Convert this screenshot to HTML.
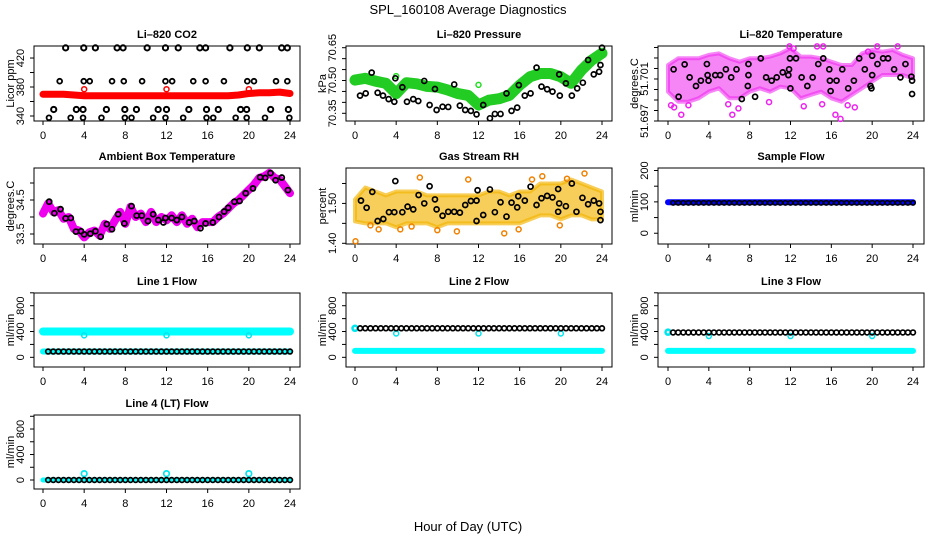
<!DOCTYPE html>
<html><head><meta charset="utf-8"><style>
html,body{margin:0;padding:0;background:#fff;}
svg{display:block;font-family:"Liberation Sans",sans-serif;}
</style></head><body>
<svg id="chart" width="936" height="540" viewBox="0 0 936 540" xmlns="http://www.w3.org/2000/svg">
<text x="468" y="14" text-anchor="middle" font-size="13">SPL_160108  Average Diagnostics</text>
<text x="468" y="531" text-anchor="middle" font-size="13">Hour of Day (UTC)</text>
</svg>
<script>
// ---- data ----
const flowHours = [0.5,1,1.5,2,2.5,3,3.5,4,4.5,5,5.5,6,6.5,7,7.5,8,8.5,9,9.5,10,10.5,11,11.5,12,12.5,13,13.5,14,14.5,15,15.5,16,16.5,17,17.5,18,18.5,19,19.5,20,20.5,21,21.5,22,22.5,23,23.5,24];
const bandHours = [0,1,2,3,4,5,6,7,8,9,10,11,12,13,14,15,16,17,18,19,20,21,22,23,24];
const halfHours = [0,0.5,1,1.5,2,2.5,3,3.5,4,4.5,5,5.5,6,6.5,7,7.5,8,8.5,9,9.5,10,10.5,11,11.5,12,12.5,13,13.5,14,14.5,15,15.5,16,16.5,17,17.5,18,18.5,19,19.5,20,20.5,21,21.5,22,22.5,23,23.5,24];
const calHours = [4,12,20];

// CO2
const co2Red = [370,370,370,369,368,368,368,368,368,368,368,368,368,368,368,368,368,368,368,369,371,372,372,373,371];
const co2RedCal = [377,377,377];
const co2TopH = [2.2,3.96,5.09,7.2,7.78,10.12,11.9,13.14,15.24,15.8,18.16,19.85,21.02,23.19,23.74];
const co2TopV = [434,434,434,434,434,434,434,434,434,434,434,434,434,434,434];
const co2MidH = [1.62,3.96,4.54,6.71,7.85,9.63,11.9,12.55,14.6,15.8,17.58,19.85,20.5,22.64,23.74];
const co2MidV = [388,388,388,388,388,388,388,388,388,388,388,388,388,388,388];
const co2LowH = [1.04,3.24,3.89,6.16,7.95,9.08,11.19,12.0,14.17,15.89,17.03,19.2,19.79,22.12,23.84];
const co2LowV = [349,349,349,349,349,349,349,349,349,349,349,349,349,349,349];
const co2BotH = [0.58,2.69,3.89,5.68,7.95,8.6,10.7,11.9,13.62,15.89,16.54,18.72,19.79,21.57,23.94];
const co2BotV = [337.6,337.6,337.6,337.6,337.6,337.6,337.6,337.6,337.6,337.6,337.6,337.6,337.6,337.6,337.6];

// Pressure
const presBand = [70.502,70.51,70.497,70.487,70.44,70.49,70.485,70.473,70.47,70.457,70.44,70.432,70.388,70.41,70.417,70.432,70.479,70.517,70.532,70.532,70.517,70.487,70.547,70.593,70.625];
const presCalV = [70.52,70.48,70.52];
const presBlkH = [0.49,1.04,1.62,2.2,2.72,3.27,3.82,3.92,4.6,5.05,5.66,6.15,6.73,7.25,7.77,7.93,8.51,9.06,9.64,10.19,10.71,11.26,11.81,12.46,13.11,13.59,14.14,14.72,15.21,15.76,15.92,16.5,17.06,17.64,18.12,18.67,19.19,19.84,19.9,20.49,21.07,21.59,22.14,22.65,23.2,23.72,23.85,24.0];
const presBlkV = [70.431,70.441,70.536,70.444,70.431,70.415,70.403,70.51,70.469,70.403,70.415,70.406,70.498,70.388,70.461,70.365,70.38,70.379,70.482,70.385,70.365,70.361,70.345,70.388,70.327,70.347,70.347,70.441,70.361,70.376,70.479,70.431,70.441,70.559,70.472,70.46,70.449,70.528,70.431,70.487,70.431,70.464,70.49,70.594,70.528,70.54,70.571,70.65];

// Li-820 temperature
const tempUpper = [51.70233,51.70297,51.70297,51.70297,51.70329,51.70344,51.70297,51.70265,51.70297,51.70297,51.70313,51.70344,51.70392,51.70313,51.70313,51.70297,51.70265,51.70233,51.70233,51.70344,51.70376,51.7036,51.70376,51.70329,51.70297];
const tempLower = [51.69979,51.69884,51.69884,51.69916,51.69979,51.70011,51.69916,51.69916,51.69979,51.70011,51.69979,51.70027,51.70011,51.69916,51.69948,51.69979,51.69916,51.69884,51.69948,51.70011,51.70075,51.70138,51.70138,51.70138,51.70106];
const tempOutH = [0.3,0.6,1.3,2.0,5.9,6.3,6.9,9.9,13.3,15.1,16.4,16.9,17.6,18.3,11.9,12.3,14.6,15.2,19.6,20.5,22.5];
const tempOutV = [51.6985,51.6983,51.6976,51.6985,51.6986,51.6976,51.6982,51.6988,51.6984,51.6986,51.6976,51.6972,51.6985,51.6983,51.7041,51.7039,51.7041,51.7041,51.7036,51.7041,51.7041];
const tempBlkH = [0.55,1.04,1.63,2.12,2.74,3.22,3.81,3.88,3.97,4.63,5.11,5.67,6.19,6.71,7.23,7.82,7.88,7.88,8.53,9.09,9.61,10.16,10.65,11.24,11.79,11.86,11.95,11.99,12.54,13.09,13.65,14.17,14.72,15.21,15.8,15.86,15.93,16.51,17.07,17.65,18.21,18.73,19.28,19.84,19.93,20.0,20.0,20.52,21.07,21.56,22.15,22.77,23.26,23.84,23.91,23.91];
const tempBlkV = [51.70192,51.69931,51.70239,51.70115,51.70033,51.70084,51.70242,51.70137,51.70084,51.70137,51.70137,51.70192,51.70115,51.70192,51.69909,51.70033,51.70137,51.70242,51.69931,51.70296,51.70115,51.70084,51.70115,51.70163,51.70137,51.70192,51.70296,51.70011,51.70296,51.70115,51.70033,51.70115,51.70242,51.70296,51.70192,51.70084,51.69985,51.70084,51.70192,51.70011,51.70084,51.70296,51.70192,51.70033,51.70011,51.70137,51.70321,51.70242,51.70296,51.70296,51.70192,51.70115,51.70242,51.70122,51.70084,51.69957];

// Ambient box temperature
const ambBand = [34.1,34.4,34.15,34.2,33.95,34.0,33.65,33.6,33.4,33.55,33.6,33.45,33.8,33.65,33.9,34.15,33.8,34.3,34.0,34.1,33.85,34.15,33.85,34.0,33.9,34.05,33.85,34.05,33.8,33.95,33.7,33.85,33.85,33.85,34.0,34.1,34.25,34.4,34.5,34.65,34.8,34.95,35.15,35.2,35.3,35.15,35.1,34.9,34.7];
const ambBlkH = [0.6,1.1,1.7,2.2,2.7,3.2,3.7,4.0,4.6,5.1,5.6,6.2,6.7,7.3,7.9,8.6,9.1,9.6,10.2,10.7,11.2,11.7,11.9,12.5,13.0,13.5,14.2,14.7,15.3,15.8,16.5,17.1,17.6,18.0,18.6,19.1,19.7,20.4,21.1,21.6,22.1,22.6,23.2,23.8];
const ambBlkV = [34.45,34.11,34.23,33.96,33.97,33.57,33.58,33.49,33.51,33.58,33.42,33.79,33.64,34.08,33.81,34.32,34.04,34.04,33.88,34.08,33.91,33.84,33.97,33.97,33.91,34.0,33.84,33.88,33.67,33.81,33.84,34.0,34.16,34.27,34.45,34.47,34.7,34.84,35.17,35.15,35.29,35.08,35.16,34.79];

// Gas stream RH
const rhUpper = [1.51,1.54,1.53,1.52,1.53,1.53,1.53,1.52,1.52,1.52,1.52,1.52,1.52,1.53,1.53,1.52,1.53,1.53,1.55,1.55,1.55,1.56,1.55,1.54,1.53];
const rhLower = [1.455,1.45,1.45,1.45,1.44,1.45,1.45,1.45,1.44,1.45,1.45,1.45,1.45,1.45,1.45,1.45,1.45,1.46,1.47,1.47,1.46,1.47,1.47,1.46,1.46];
const rhOutH = [0.05,1.5,2.3,4.4,5.5,6.3,8.0,9.9,11.0,14.5,15.9,17.2,18.2,19.9,20.6,22.3];
const rhOutV = [1.405,1.445,1.435,1.435,1.442,1.565,1.433,1.43,1.56,1.425,1.435,1.56,1.568,1.445,1.562,1.575];
const rhBlkH = [0.58,1.13,1.68,2.2,2.75,3.3,3.82,3.92,4.6,5.11,5.66,6.18,6.73,7.25,7.77,7.93,8.51,9.06,9.64,10.19,10.71,11.26,11.81,11.81,11.91,12.46,13.11,13.59,14.14,14.72,15.21,15.76,15.86,16.5,17.06,17.64,18.12,18.67,19.19,19.74,19.74,19.84,20.49,21.07,21.52,22.1,22.65,23.2,23.72,23.85,23.85];
const rhBlkV = [1.507,1.489,1.529,1.456,1.461,1.478,1.478,1.556,1.478,1.492,1.485,1.521,1.5,1.543,1.51,1.485,1.469,1.479,1.479,1.477,1.496,1.506,1.507,1.456,1.533,1.471,1.535,1.478,1.503,1.467,1.502,1.49,1.518,1.507,1.542,1.496,1.513,1.519,1.515,1.479,1.536,1.5,1.493,1.55,1.479,1.514,1.498,1.507,1.5,1.479,1.458];

// Flows
const sampleBlue = [99,99,99,99,99,99,99,99,99,99,99,99,99,99,99,99,99,99,99,99,99,99,99,99,99];
const sampleBlk = [97,97,97,97,97,97,97,97,97,97,97,97,97,97,97,97,97,97,97,97,97,97,97,97,97,97,97,97,97,97,97,97,97,97,97,97,97,97,97,97,97,97,97,97,97,97,97,97];
const line1Cyan = [400,400,400,400,400,400,400,400,400,400,400,400,400,400,400,400,400,400,400,400,400,400,400,400,400];
const line1CyanLow = [90,90,90,90,90,90,90,90,90,90,90,90,90,90,90,90,90,90,90,90,90,90,90,90,90];
const line1Cal = [340,340,340];
const line1Blk = [90,90,90,90,90,90,90,90,90,90,90,90,90,90,90,90,90,90,90,90,90,90,90,90,90,90,90,90,90,90,90,90,90,90,90,90,90,90,90,90,90,90,90,90,90,90,90,90];
const line2Cyan = [100,100,100,100,100,100,100,100,100,100,100,100,100,100,100,100,100,100,100,100,100,100,100,100,100];
const line2Cal = [370,370,370];
const line2Blk = [450,450,450,450,450,450,450,450,450,450,450,450,450,450,450,450,450,450,450,450,450,450,450,450,450,450,450,450,450,450,450,450,450,450,450,450,450,450,450,450,450,450,450,450,450,450,450,450];
const line3Cyan = [100,100,100,100,100,100,100,100,100,100,100,100,100,100,100,100,100,100,100,100,100,100,100,100,100];
const line3Cal = [330,330,330];
const line3Blk = [385,385,385,385,385,385,385,385,385,385,385,385,385,385,385,385,385,385,385,385,385,385,385,385,385,385,385,385,385,385,385,385,385,385,385,385,385,385,385,385,385,385,385,385,385,385,385,385];
const line4Cyan = [0,0,0,0,0,0,0,0,0,0,0,0,0,0,0,0,0,0,0,0,0,0,0,0,0];
const line4Cal = [100,100,100];
const line4Blk = [0,0,0,0,0,0,0,0,0,0,0,0,0,0,0,0,0,0,0,0,0,0,0,0,0,0,0,0,0,0,0,0,0,0,0,0,0,0,0,0,0,0,0,0,0,0,0,0];
const xTicks = [0,4,8,12,16,20,24];

// ---- drawing ----
const NS = 'http://www.w3.org/2000/svg';
const svg = document.getElementById('chart');
const cols = [{l:34,r:300,a:43,b:290,yl:11},{l:346,r:612,a:355,b:602,yl:323},{l:658,r:924,a:668,b:913,yl:635}];
const rows = [{t:46,b:121},{t:168,b:244},{t:293,b:367},{t:415,b:489}];
let clipN = 0;
function mk(tag, attrs, parent){
  const e = document.createElementNS(NS, tag);
  for (const k in attrs) e.setAttribute(k, attrs[k]);
  (parent||svg).appendChild(e);
  return e;
}
function panel(name, title, ylab, ci, ri, ymin, ymax, yticks, ylabels){
  const c = cols[ci], r = rows[ri];
  const g = mk('g', {});
  
  
  const xs = h => c.a + (c.b - c.a) * h / 24;
  const ys = v => r.b - (v - ymin) / (ymax - ymin) * (r.b - r.t);
  const box = mk('rect', {x:c.l, y:r.t, width:c.r-c.l, height:r.b-r.t, fill:'none', stroke:'#000', 'stroke-width':1}, g);
  
  
  const t = mk('text', {x:(c.l+c.r)/2, y:r.t-8, 'text-anchor':'middle', 'font-size':11, 'font-weight':'bold'}, g);
  t.textContent = title;
  
  
  const yl = mk('text', {x:c.yl, y:(r.t+r.b)/2, 'text-anchor':'middle', 'font-size':11, transform:`rotate(-90 ${c.yl} ${(r.t+r.b)/2})`, 'dominant-baseline':'middle'}, g);
  yl.textContent = ylab;
  
  
  const xa = mk('g', {}, g);
  
  
  xTicks.forEach(h => {
    mk('line', {x1:xs(h), x2:xs(h), y1:r.b, y2:r.b+4, stroke:'#000'}, xa);
    const tl = mk('text', {x:xs(h), y:r.b+18, 'text-anchor':'middle', 'font-size':11}, xa);
    tl.textContent = h;
  });
  const ya = mk('g', {}, g);
  
  
  yticks.forEach(v => mk('line', {x1:c.l-4, x2:c.l, y1:ys(v), y2:ys(v), stroke:'#000'}, ya));
  ylabels.forEach(v => {
    const lx = c.l - 10, ly = ys(v);
    const tl = mk('text', {x:lx, y:ly, 'text-anchor':'middle', 'font-size':11, transform:`rotate(-90 ${lx} ${ly})`}, ya);
    tl.textContent = v;
  });
  const id = 'clip' + (clipN++);
  const cp = mk('clipPath', {id:id}, g);
  mk('rect', {x:c.l-3, y:r.t-3, width:c.r-c.l+6, height:r.b-r.t+6}, cp);
  const marks = mk('g', {'clip-path':`url(#${id})`}, g);
  
  
  return {xs, ys, g:marks};
}
function band(p, hours, vals, color, w, nm){
  const pts = hours.map((h,i) => p.xs(h).toFixed(1)+','+p.ys(vals[i]).toFixed(1)).join(' ');
  const e = mk('polyline', {points:pts, fill:'none', stroke:color, 'stroke-width':w, 'stroke-linejoin':'round', 'stroke-linecap':'round'}, p.g);
  
  
}
function area(p, hours, up, lo, color, op, nm){
  const a = hours.map((h,i) => p.xs(h).toFixed(1)+','+p.ys(up[i]).toFixed(1));
  const b = hours.slice().reverse().map((h,i) => p.xs(h).toFixed(1)+','+p.ys(lo[hours.length-1-i]).toFixed(1));
  const e = mk('polygon', {points:a.concat(b).join(' '), fill:color, 'fill-opacity':op, stroke:color, 'stroke-opacity':op, 'stroke-width':4, 'stroke-linejoin':'round'}, p.g);
  
  
}
function pts(p, hours, vals, color, rad, sw, nm){
  hours.forEach((h,i) => {
    const e = mk('circle', {cx:p.xs(h), cy:p.ys(vals[i]), r:rad, fill:'none', stroke:color, 'stroke-width':sw}, p.g);
    
    
  });
}

// CO2
let p = panel('co2', 'Li\u2013820 CO2', 'Licor ppm', 0, 0, 333.1, 436.6, [340,360,380,400,420], [340,380,420]);
band(p, bandHours, co2Red, '#f00', 7, 'co2-red-band');
pts(p, calHours, co2RedCal, '#f00', 2.5, 1.5, 'co2-cal-point');
pts(p, co2TopH, co2TopV, '#000', 2.6, 2, 'co2-point');
pts(p, co2MidH, co2MidV, '#000', 2.4, 1.8, 'co2-point');
pts(p, co2LowH, co2LowV, '#000', 2.6, 2, 'co2-point');
pts(p, co2BotH, co2BotV, '#000', 2.4, 1.8, 'co2-point');

// Pressure
p = panel('pressure', 'Li\u2013820 Pressure', 'kPa', 1, 0, 70.3148, 70.6578, [70.35,70.40,70.45,70.50,70.55,70.60,70.65], ['70.35','70.50','70.65']);
band(p, bandHours, presBand, '#22cc22', 11, 'pressure-green-band');
pts(p, calHours, presCalV, '#22dd22', 2.5, 1.5, 'pressure-cal-point');
pts(p, presBlkH, presBlkV, '#000', 2.5, 1.7, 'pressure-point');

// Li-820 temperature
p = panel('li820-temp', 'Li\u2013820 Temperature', 'degrees.C', 2, 0, 51.697, 51.70414, [51.697,51.698,51.699,51.700,51.701,51.702,51.703,51.704], ['51.697','51.701']);
area(p, bandHours, tempUpper, tempLower, '#ee22ee', 0.55, 'temp-magenta-cloud');
pts(p, tempOutH, tempOutV, '#ee22ee', 2.5, 1.5, 'temp-magenta-point');
pts(p, tempBlkH, tempBlkV, '#000', 2.5, 1.7, 'temp-point');

// Ambient
p = panel('ambient', 'Ambient Box Temperature', 'degrees.C', 0, 1, 33.206, 35.441, [33.5,34,34.5,35], ['33.5','34.5']);
band(p, halfHours, ambBand, '#ee00ee', 8, 'ambient-magenta-band');
pts(p, ambBlkH, ambBlkV, '#000', 2.5, 1.8, 'ambient-point');

// RH
p = panel('rh', 'Gas Stream RH', 'percent', 1, 1, 1.39825, 1.5888, [1.40,1.45,1.50,1.55], ['1.40','1.50']);
area(p, bandHours, rhUpper, rhLower, '#f2b400', 0.65, 'rh-orange-cloud');
pts(p, rhOutH, rhOutV, '#f08000', 2.5, 1.5, 'rh-orange-point');
pts(p, rhBlkH, rhBlkV, '#000', 2.5, 1.7, 'rh-point');

// Sample flow
p = panel('sample-flow', 'Sample Flow', 'ml/min', 2, 1, -34.3, 208, [0,50,100,150,200], [0,100,200]);
band(p, bandHours, sampleBlue, '#0000ff', 6, 'sample-blue-band');
pts(p, flowHours, sampleBlk, '#000', 2.2, 1.6, 'sample-point');

const fT = [0,200,400,600,800,1000], fL = [0,400,800];
// Line 1
p = panel('line1', 'Line 1 Flow', 'ml/min', 0, 2, -150, 997, fT, fL);
band(p, bandHours, line1Cyan, '#00ffff', 8, 'line1-cyan-band');
band(p, bandHours, line1CyanLow, '#00ffff', 6, 'line1-cyan-low-band');
pts(p, calHours, line1Cal, '#00e5ee', 2.5, 1.5, 'line1-cal-point');
pts(p, flowHours, line1Blk, '#000', 2.4, 1.7, 'line1-point');
// Line 2
p = panel('line2', 'Line 2 Flow', 'ml/min', 1, 2, -150, 997, fT, fL);
band(p, bandHours, line2Cyan, '#00ffff', 6, 'line2-cyan-band');
pts(p, calHours, line2Cal, '#00e5ee', 2.5, 1.5, 'line2-cal-point');
pts(p, [0], [450], '#00e5ee', 2.5, 2.5, 'line2-cyan-point');
pts(p, flowHours, line2Blk, '#000', 2.4, 1.7, 'line2-point');
// Line 3
p = panel('line3', 'Line 3 Flow', 'ml/min', 2, 2, -150, 997, fT, fL);
band(p, bandHours, line3Cyan, '#00ffff', 6, 'line3-cyan-band');
pts(p, calHours, line3Cal, '#00e5ee', 2.5, 1.5, 'line3-cal-point');
pts(p, [0], [390], '#00e5ee', 2.5, 2.5, 'line3-cyan-point');
pts(p, flowHours, line3Blk, '#000', 2.4, 1.7, 'line3-point');
// Line 4
p = panel('line4', 'Line 4 (LT) Flow', 'ml/min', 0, 3, -141, 1020, fT, fL);
band(p, bandHours, line4Cyan, '#00ffff', 5, 'line4-cyan-band');
pts(p, calHours, line4Cal, '#00e5ee', 2.8, 1.7, 'line4-cal-point');
pts(p, flowHours, line4Blk, '#000', 2.4, 1.7, 'line4-point');
</script>
</body></html>
